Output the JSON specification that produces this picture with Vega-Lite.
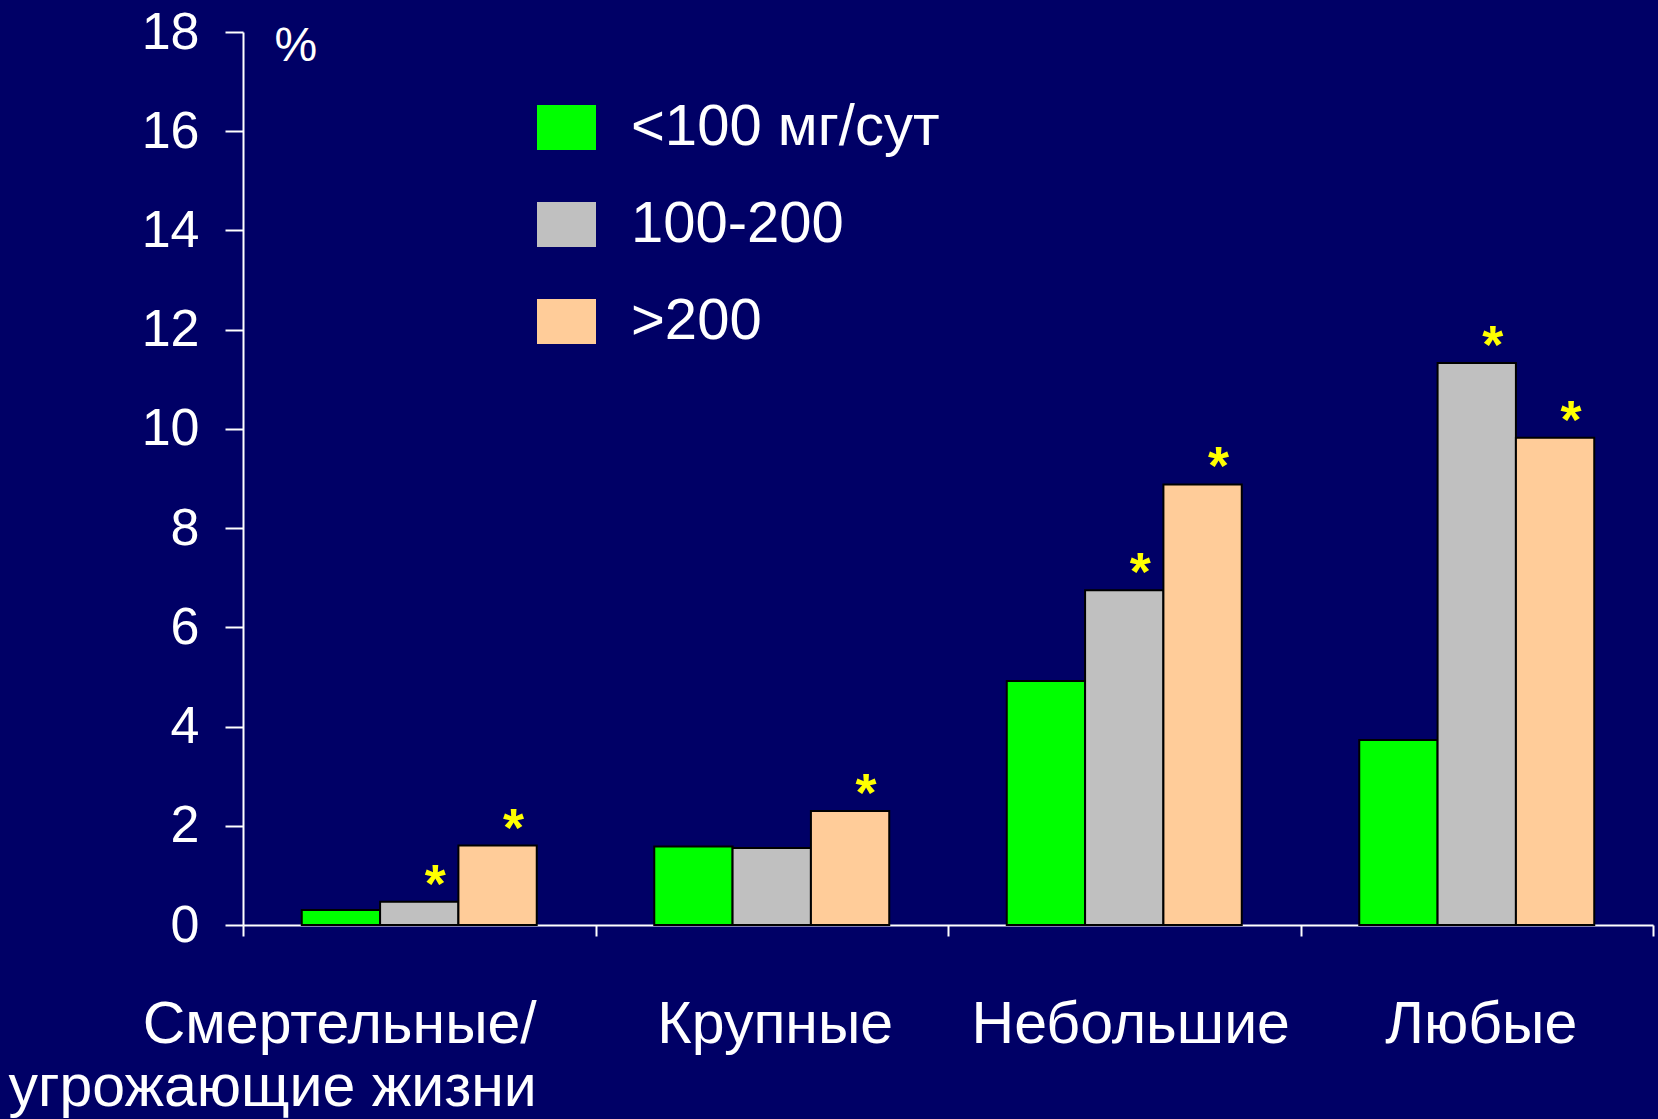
{
  "$schema": "https://vega.github.io/schema/vega-lite/v6.json",
  "width": 1410,
  "height": 893,
  "autosize": "none",
  "padding": {"left": 243, "top": 32, "right": 5, "bottom": 194},
  "background": "#000066",
  "data": {"values": [
    {"category": "Смертельные/ угрожающие жизни", "group": "<100 мг/сут", "value": 0.3, "sig": ""},
    {"category": "Смертельные/ угрожающие жизни", "group": "100-200", "value": 0.47, "sig": "*"},
    {"category": "Смертельные/ угрожающие жизни", "group": ">200", "value": 1.6, "sig": "*"},
    {"category": "Крупные", "group": "<100 мг/сут", "value": 1.58, "sig": ""},
    {"category": "Крупные", "group": "100-200", "value": 1.55, "sig": ""},
    {"category": "Крупные", "group": ">200", "value": 2.3, "sig": "*"},
    {"category": "Небольшие", "group": "<100 мг/сут", "value": 4.92, "sig": ""},
    {"category": "Небольшие", "group": "100-200", "value": 6.75, "sig": "*"},
    {"category": "Небольшие", "group": ">200", "value": 8.88, "sig": "*"},
    {"category": "Любые", "group": "<100 мг/сут", "value": 3.73, "sig": ""},
    {"category": "Любые", "group": "100-200", "value": 11.33, "sig": "*"},
    {"category": "Любые", "group": ">200", "value": 9.82, "sig": "*"}
  ]},
  "encoding": {
    "x": {
      "field": "category", "type": "nominal",
      "sort": ["Смертельные/ угрожающие жизни", "Крупные", "Небольшие", "Любые"],
      "scale": {"paddingInner": 0, "paddingOuter": 0},
      "axis": {
        "title": null,
        "labelAngle": 0,
        "labelExpr": "datum.value == 'Смертельные/ угрожающие жизни' ? ['Смертельные/', 'угрожающие жизни'] : datum.value",
        "labelOffset": {"expr": "datum.value == 'Смертельные/ угрожающие жизни' ? 117 : datum.value == 'Крупные' ? 3 : datum.value == 'Небольшие' ? 6 : 4"},
        "labelAlign": {"expr": "datum.value == 'Смертельные/ угрожающие жизни' ? 'right' : 'center'"},
        "labelBaseline": "alphabetic",
        "labelFont": "Liberation Sans",
        "labelFontSize": 59,
        "labelLineHeight": 63,
        "labelColor": "white",
        "labelPadding": 106,
        "tickBand": "extent",
        "tickSize": 11,
        "tickColor": "white",
        "tickWidth": 2,
        "domainColor": "white",
        "domainWidth": 2,
        "labelLimit": 0,
        "labelOverlap": false
      }
    },
    "xOffset": {
      "field": "group", "type": "nominal",
      "sort": ["<100 мг/сут", "100-200", ">200"],
      "scale": {"paddingInner": 0, "paddingOuter": 0.75}
    },
    "y": {
      "field": "value", "type": "quantitative",
      "scale": {"domain": [0, 18], "nice": false},
      "axis": {
        "title": "%",
        "titleAngle": 0,
        "titleX": 31,
        "titleY": 28,
        "titleAlign": "left",
        "titleBaseline": "alphabetic",
        "titleFont": "Liberation Sans",
        "titleFontSize": 48,
        "titleFontWeight": "normal",
        "titleColor": "white",
        "values": [0, 2, 4, 6, 8, 10, 12, 14, 16, 18],
        "grid": false,
        "labelFont": "Liberation Sans",
        "labelFontSize": 52,
        "labelColor": "white",
        "labelPadding": 26,
        "tickSize": 18,
        "tickColor": "white",
        "tickWidth": 2,
        "domainColor": "white",
        "domainWidth": 2
      }
    }
  },
  "layer": [
    {
      "mark": {"type": "bar", "stroke": "black", "strokeWidth": 2},
      "encoding": {
        "color": {
          "field": "group", "type": "nominal",
          "sort": ["<100 мг/сут", "100-200", ">200"],
          "scale": {"domain": ["<100 мг/сут", "100-200", ">200"], "range": ["#00FF00", "#C0C0C0", "#FFCC99"]},
          "legend": {
            "title": null,
            "orient": "none",
            "legendX": 294,
            "legendY": 66,
            "padding": 0,
            "symbolType": "M-1,-0.763H1V0.763H-1Z",
            "symbolSize": 3481,
            "symbolStrokeWidth": 0,
            "symbolOpacity": 1,
            "labelFont": "Liberation Sans",
            "labelFontSize": 58,
            "labelColor": "white",
            "labelOffset": 35,
            "rowPadding": 38,
            "labelLimit": 0
          }
        }
      }
    },
    {
      "mark": {"type": "text", "color": "#FFFF00", "font": "Liberation Sans", "fontWeight": "bold", "fontSize": 54, "baseline": "alphabetic", "dy": 0, "dx": 16},
      "encoding": {"text": {"field": "sig"}}
    }
  ],
  "config": {"view": {"stroke": null}}
}
